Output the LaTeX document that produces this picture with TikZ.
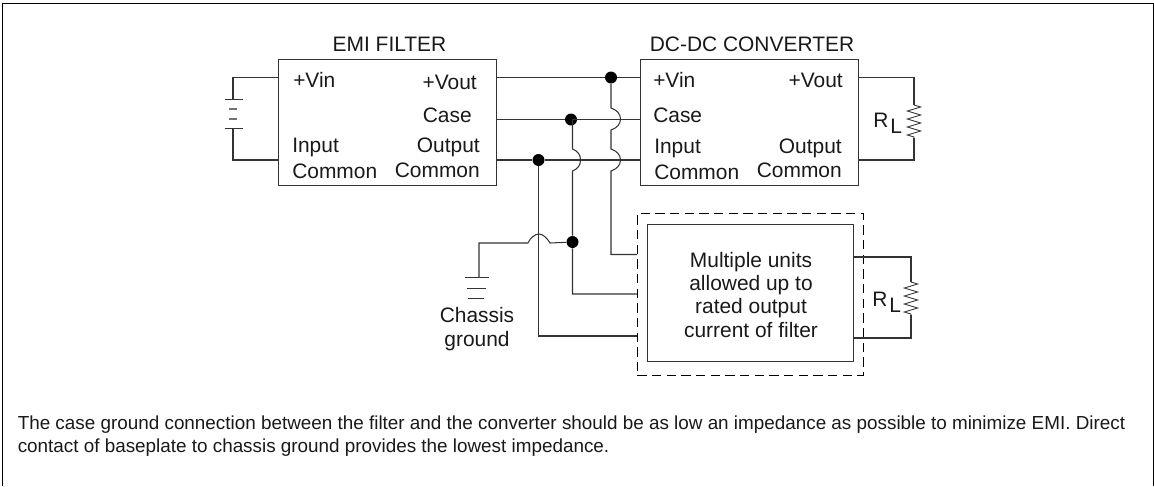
\documentclass[tikz,border=0pt]{standalone}
\usepackage{fontspec}
\setmainfont{Liberation Sans}
\usetikzlibrary{decorations.pathmorphing,calc}
\definecolor{ink}{HTML}{333333}
\tikzset{
  x=0.75pt,y=-0.75pt,
  wire/.style={draw=ink,line width=0.78pt},
  unitbox/.style={draw=ink,line width=0.85pt,anchor=north west,inner sep=0pt},
  dashbox/.style={draw=black,line width=0.65pt,dash pattern=on 7pt off 4pt,anchor=north west,inner sep=0pt},
  dot/.style={circle,fill=black,inner sep=0pt,minimum size=9pt},
  lab/.style={font=\fontsize{15.7pt}{17.3pt}\selectfont,inner sep=0pt,text=black!90},
  captiontext/.style={anchor=base west,inner sep=0pt,font=\fontsize{14.15pt}{17pt}\selectfont,text=black!90},
  res/.style={draw=ink,line width=0.65pt,decorate,decoration={zigzag,segment length=6pt,amplitude=5pt}},
}
\newcommand{\rload}{R\hspace{1.5pt}\raisebox{-4.5pt}{L}}
\begin{document}
\begin{tikzpicture}
\useasboundingbox (0,0) rectangle (1154,486);
% frame
\draw[black,line width=0.8pt] (2.5,486) -- (2.5,3.5) -- (1153.5,3.5) -- (1153.5,486);
% boxes
\node[unitbox,minimum width=163.5pt,minimum height=94.5pt] (emi) at (278,59) {};
\node[unitbox,minimum width=163.5pt,minimum height=94.5pt] (dc) at (640,59) {};
\node[dashbox,minimum width=169.5pt,minimum height=121.5pt] (dash) at (637,213) {};
\node[unitbox,minimum width=154.5pt,minimum height=102.75pt] (multi) at (647,224) {};
% box titles
\node[lab,anchor=base] (t1) at (389.5,51) {EMI FILTER};
\node[lab,anchor=base] (t2) at (752,51) {DC-DC CONVERTER};
% EMI labels
\node[lab,anchor=base west] (a1) at (293,87) {+Vin};
\node[lab,anchor=base east] (a2) at (477,89) {+Vout};
\node[lab,anchor=base east] (a3) at (472,122) {Case};
\node[lab,anchor=base west] (a4) at (292,152) {Input};
\node[lab,anchor=base west] (a5) at (292,178) {Common};
\node[lab,anchor=base east] (a6) at (480,152) {Output};
\node[lab,anchor=base east] (a7) at (480,177) {Common};
% DC labels
\node[lab,anchor=base west] (b1) at (653,87) {+Vin};
\node[lab,anchor=base east] (b2) at (843,87) {+Vout};
\node[lab,anchor=base west] (b3) at (653,122) {Case};
\node[lab,anchor=base west] (b4) at (654,153) {Input};
\node[lab,anchor=base west] (b5) at (654,179) {Common};
\node[lab,anchor=base east] (b6) at (842,153) {Output};
\node[lab,anchor=base east] (b7) at (842,177) {Common};
% multi text
\node[lab,align=center,anchor=base] (m) at (751,337) {Multiple units\\allowed up to\\rated output\\current of filter};
% chassis
\node[lab,align=center,anchor=base] (cg) at (477,346) {Chassis\\ground};
% RL
\node[lab,anchor=base west] (r1) at (873,127) {\rload};
\node[lab,anchor=base west] (r2) at (872,306) {\rload};
% caption
\node[captiontext] (c1) at (17.5,429) {The case ground connection between the filter and the converter should be as low an impedance as possible to minimize EMI. Direct};
\node[captiontext] (c2) at (17.5,452) {contact of baseplate to chassis ground provides the lowest impedance.};
% junctions
\node[dot] (j1) at (611,77.5) {};
\node[dot] (j2) at (571,119.5) {};
\node[dot] (j3) at (538.5,160) {};
\node[dot] (j4) at (572.5,242) {};
% ports
\coordinate (eVin) at (278,77.5);
\coordinate (eCom) at (278,160);
\coordinate (eOutP) at (496,77.5);
\coordinate (eCase) at (496,119.5);
\coordinate (eOutC) at (496,160);
\coordinate (dVin) at (640,77.5);
\coordinate (dCase) at (640,119.5);
\coordinate (dCom) at (640,160);
\coordinate (dOutP) at (858,77.5);
\coordinate (dOutC) at (858,160);
% horizontal buses
\draw[wire] (eOutP) -- (j1) -- (dVin);
\draw[wire] (eCase) -- (j2) -- (dCase);
\draw[wire] (eOutC) -- (j3) -- (dCom);
% battery
\coordinate (bt) at (233,99.5);
\coordinate (bb) at (233,128.5);
\draw[wire] (eVin) -| (bt);
\draw[wire] (eCom) -| (bb);
\draw[wire] (224.5,99.5) -- (243,99.5);
\draw[wire] (224.5,128.5) -- (243,128.5);
\draw[wire,draw=black!55] (229,109) -- (237,109);
\draw[wire,draw=black!55] (229,119) -- (237,119);
% vertical with hops
\coordinate (in1) at (637,254.5);
\coordinate (in2) at (637,294);
\coordinate (in3) at (637,336);
\draw[wire] (j1) -- (611,108) .. controls (617,110) and (620.5,114) .. (620.5,119) .. controls (620.5,124) and (617,128) .. (611,130)
  -- (611,149) .. controls (617,151) and (620.5,155) .. (620.5,160) .. controls (620.5,165) and (617,169) .. (611,171) -- (611,254.5) -- (in1);
\draw[wire] (j2) -- (572.5,119.5) -- (572.5,149) .. controls (578,151) and (580.5,155) .. (580.5,160) .. controls (580.5,165) and (578,169) .. (572.5,171) -- (j4) -- (572.5,294) -- (in2);
\draw[wire] (j3) -- (538.5,336) -- (in3);
% chassis wire
\coordinate (g0) at (479,277);
\draw[wire] (j4) -- (550,243) .. controls (547,238) and (543,234) .. (539,234) .. controls (535,234) and (530,238) .. (528,243) -- (479,243) -- (g0);
\draw[wire] (465,277.5) -- (489,277.5);
\draw[wire] (467,288.5) -- (486,288.5);
\draw[wire] (468,298.5) -- (484,298.5);
% RL top
\coordinate (rt) at (914,105);
\coordinate (rb) at (914,138);
\draw[wire] (dOutP) -| (rt);
\draw[wire] (dOutC) -| (rb);
\draw[res] (rt) -- (rb);
% RL multi
\coordinate (mt) at (853,257);
\coordinate (mb) at (853,338);
\coordinate (st) at (911,282);
\coordinate (sb) at (911,315);
\draw[wire] (mt) -| (st);
\draw[wire] (mb) -| (sb);
\draw[res] (st) -- (sb);
\end{tikzpicture}
\end{document}
